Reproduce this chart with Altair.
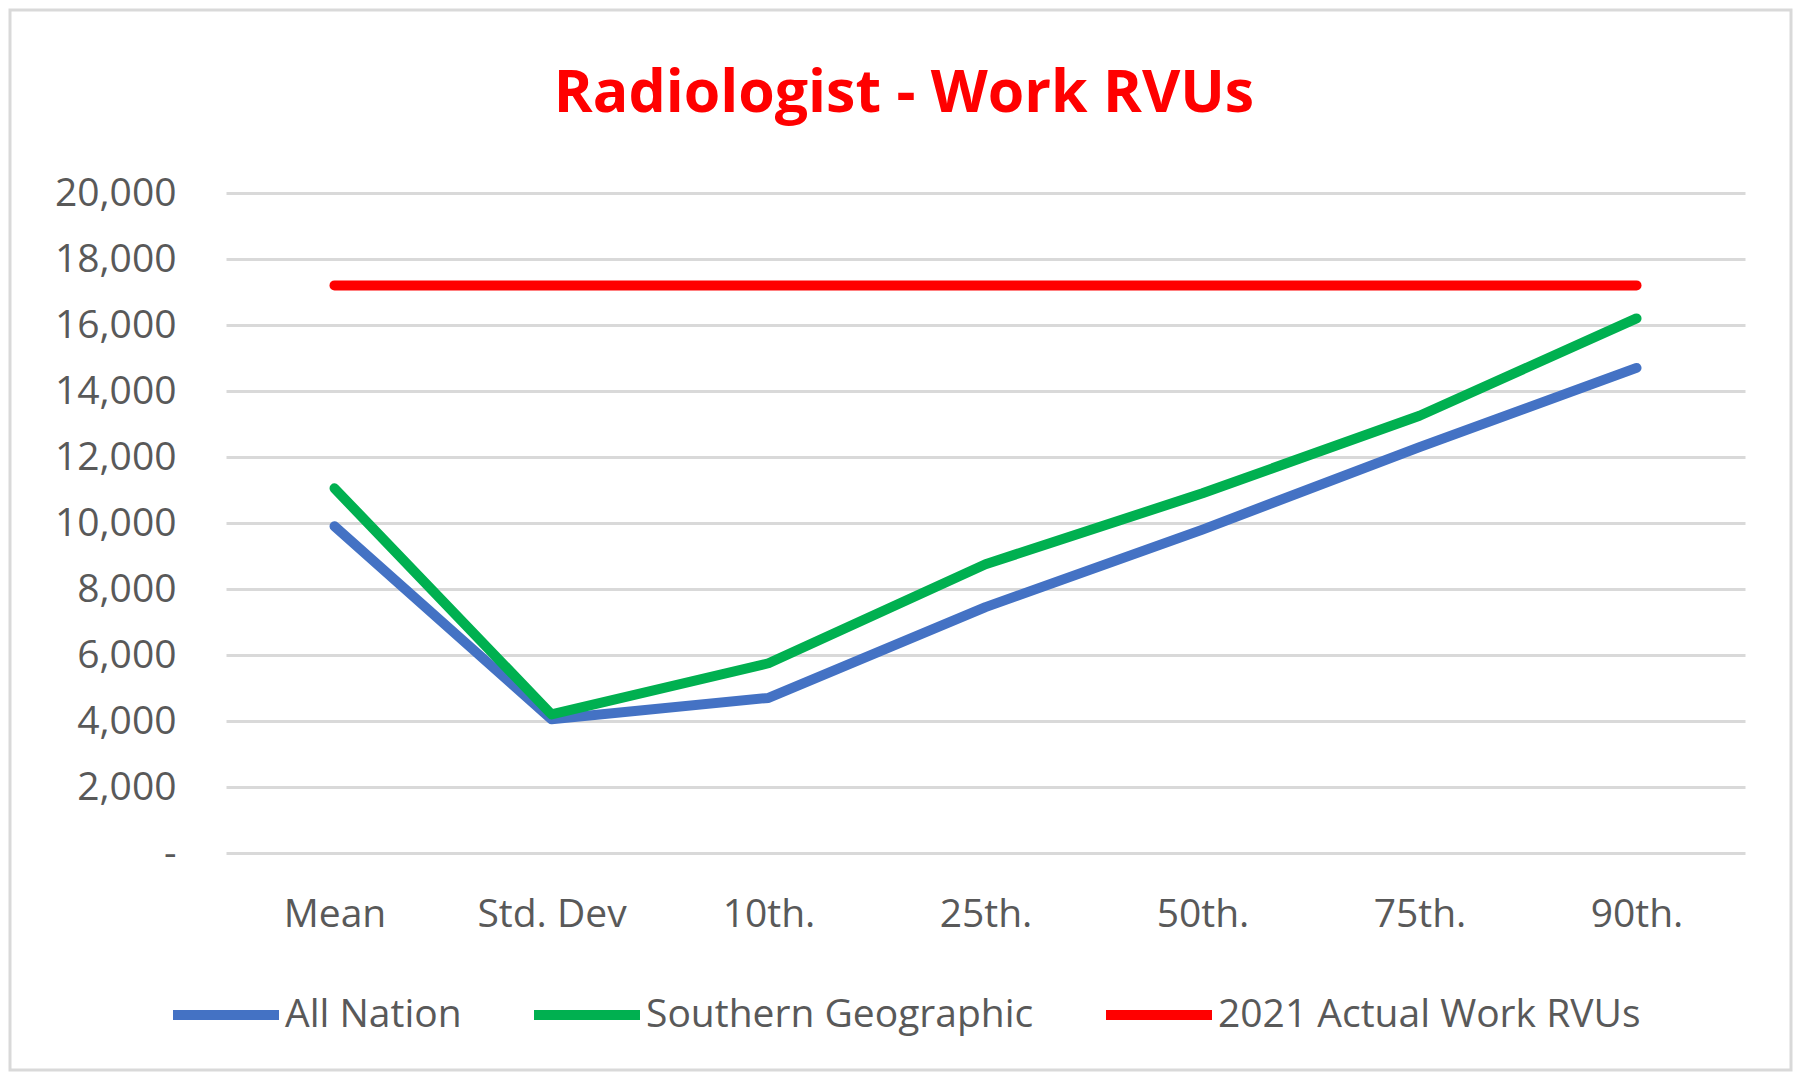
import altair as alt
import pandas as pd

categories = ["Mean", "Std. Dev", "10th.", "25th.", "50th.", "75th.", "90th."]
all_nation = [9900, 4050, 4700, 7450, 9800, 12300, 14700]
southern = [11050, 4200, 5750, 8750, 10900, 13250, 16200]
actual_2021 = [17200, 17200, 17200, 17200, 17200, 17200, 17200]
series_names = ["All Nation", "Southern Geographic", "2021 Actual Work RVUs"]
series_colors = ["#4472C4", "#00B050", "#FF0000"]
y_ticks = [0, 2000, 4000, 6000, 8000, 10000, 12000, 14000, 16000, 18000, 20000]
title_text = "Radiologist - Work RVUs"

rows = []
for name, vals in zip(series_names, [all_nation, southern, actual_2021]):
    for i, (c, v) in enumerate(zip(categories, vals)):
        rows.append({"category": c, "value": v, "series": name, "order": i})
df = pd.DataFrame(rows)

FONT = "Open Sans"
W, H = 1519, 660

border = alt.Chart(pd.DataFrame({"a": [0]})).mark_rect(
    fillOpacity=0, stroke="#D9D9D9", strokeWidth=3
).encode(
    x=alt.value(-216), x2=alt.value(1565), y=alt.value(-183), y2=alt.value(877)
)

title = alt.Chart(pd.DataFrame({"t": [title_text]})).mark_text(
    font=FONT, fontSize=59, fontWeight="bold", color="#FF0000",
    align="center", baseline="middle"
).encode(
    text="t:N", x=alt.value(678), y=alt.value(-99)
)

lines = alt.Chart(df).mark_line(strokeWidth=10, strokeCap="round", strokeJoin="round").encode(
    x=alt.X("category:N", sort=categories,
            scale=alt.Scale(type="point", padding=0.5),
            axis=alt.Axis(title=None, labelAngle=0, domain=False, ticks=False, grid=False,
                          labelFont=FONT, labelFontSize=39, labelColor="#595959",
                          labelPadding=61, labelBaseline="middle")),
    y=alt.Y("value:Q", scale=alt.Scale(domain=[0, 20000], nice=False),
            axis=alt.Axis(title=None, values=y_ticks, domain=False, ticks=False,
                          gridColor="#D9D9D9", gridWidth=3,
                          labelFont=FONT, labelFontSize=39, labelColor="#595959",
                          labelPadding=50,
                          labelExpr="datum.value == 0 ? '-' : format(datum.value, ',')")),
    color=alt.Color("series:N", sort=series_names,
                    scale=alt.Scale(domain=series_names, range=series_colors),
                    legend=alt.Legend(title=None, orient="none", direction="horizontal",
                                      columns=3, legendX=-58, legendY=764,
                                      symbolType="stroke", symbolSize=11236,
                                      symbolStrokeWidth=10, labelOffset=1,
                                      columnPadding=52, labelLimit=1000,
                                      labelFont=FONT, labelFontSize=39,
                                      labelColor="#595959")),
    order=alt.Order("order:Q"),
)

chart = alt.layer(border, title, lines).properties(
    width=W, height=H,
    autosize=alt.AutoSizeParams(type="none"),
    padding={"left": 218, "top": 185, "right": 48, "bottom": 220},
    view=alt.ViewBackground(stroke="transparent", strokeWidth=0),
).configure_view(
    stroke="transparent", strokeWidth=0
).configure(
    background="white", style={"cell": {"stroke": "transparent", "strokeWidth": 0}}
)

chart.save("out.html", embed_options={"renderer": "svg", "actions": False})
